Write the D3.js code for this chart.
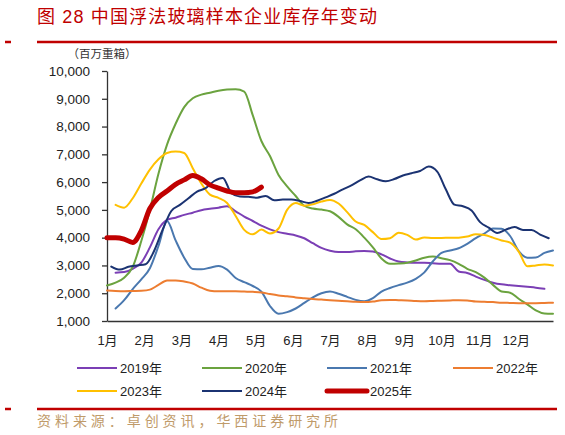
<!DOCTYPE html>
<html>
<head>
<meta charset="utf-8">
<script src="https://cdn.jsdelivr.net/npm/d3@7"></script>
<style>
  body { margin: 0; background: #fff; }
  svg { display: block; }
  text { font-family: "Liberation Sans", Arial, "Noto Sans CJK SC", sans-serif; }
</style>
</head>
<body>
<div id="chart"></div>
<script>
// weekly inventory, 万重箱 -> shown as 百万重箱 on axis ticks
var months = ["1月","2月","3月","4月","5月","6月","7月","8月","9月","10月","11月","12月"];
var yTicks = [1000,2000,3000,4000,5000,6000,7000,8000,9000,10000];
var seriesNames = ["2019年","2020年","2021年","2022年","2023年","2024年","2025年"];
var seriesStart = [1, 0, 1, 0, 1, 0.5, 0];   // first week of each series

var v2019 = [2740,2760,2880,3100,3650,4300,4640,4720,4820,4900,4990,5040,5080,5130,4950,4760,4600,4430,4300,4200,4140,4080,3980,3800,3630,3530,3480,3480,3510,3520,3500,3400,3250,3140,3110,3100,3100,3080,3060,3060,2780,2730,2600,2480,2380,2320,2290,2260,2230,2200,2160];
var v2020 = [2280,2380,2560,2950,3880,5000,6300,7350,8100,8700,9020,9150,9220,9290,9330,9340,9260,8400,7480,6940,6260,5850,5500,5150,5050,5010,4950,4750,4480,4300,4000,3650,3250,3060,3070,3100,3180,3280,3320,3260,3190,3060,2880,2760,2560,2300,2060,2020,1800,1600,1380,1270,1260];
var v2021 = [1450,1750,2150,2500,2900,3700,4600,3900,3280,2870,2860,2920,2980,2850,2550,2400,2260,2060,1540,1260,1320,1450,1650,1850,2000,2060,1980,1870,1760,1710,1820,2060,2190,2290,2380,2520,2750,3150,3450,3540,3620,3780,3980,4150,4330,4320,4060,3520,3280,3290,3450,3540];
var v2022 = [2100,2080,2070,2080,2090,2130,2300,2460,2460,2420,2350,2200,2090,2070,2070,2070,2060,2050,2030,1970,1920,1890,1850,1820,1790,1770,1750,1730,1710,1690,1680,1700,1750,1760,1750,1740,1720,1710,1720,1730,1740,1750,1740,1700,1690,1680,1660,1650,1640,1640,1640,1650,1660];
var v2023 = [5180,5080,5420,5950,6450,6820,7050,7100,7050,6500,5950,5550,5430,5250,4780,4280,4120,4290,4150,4330,5000,5250,5150,5200,5300,5360,5230,4920,4580,4460,4200,3950,3980,4180,4100,3930,4010,3990,3990,4000,4000,4040,4120,4100,4000,3900,3820,3500,2970,3000,3030,3000];
var v2024 = [2960,2850,2950,3000,3040,3530,4300,4960,5180,5420,5660,5780,6040,6150,5600,5480,5470,5440,5500,5350,5370,5370,5320,5250,5330,5450,5580,5740,5880,6060,6200,6100,6030,6110,6240,6320,6400,6560,6380,5740,5190,5130,4980,4560,4360,4170,4290,4380,4280,4280,4110,3980];
var v2025 = [4000,4000,3950,3830,4250,5050,5450,5680,5920,6080,6240,6120,5900,5780,5680,5620,5620,5650,5820];

var seriesValues = [v2019, v2020, v2021, v2022, v2023, v2024, v2025];
var colors = ["#7B3FB5","#6BA33F","#4A78AF","#ED7D31","#FFC000","#1B3372","#C00000"];
var widths = [2, 2, 2, 2, 2, 2, 5];

var W = 565, H = 435;
var plot = {left: 107, right: 553, top: 71, bottom: 321};

var svg = d3.select("#chart").append("svg")
  .attr("width", W)
  .attr("height", H);

// title + rules
svg.append("text")
  .attr("x", 37).attr("y", 23)
  .attr("font-family", "'Noto Sans CJK SC', sans-serif")
  .attr("font-size", 18)
  .attr("fill", "#C00000")
  .attr("textLength", 340).attr("lengthAdjust", "spacing")
  .text("图 28 中国浮法玻璃样本企业库存年变动");

[42, 409].forEach(function(yy) {
  svg.append("line").attr("x1", 37).attr("x2", 557).attr("y1", yy).attr("y2", yy)
    .attr("stroke", "#C00000").attr("stroke-width", 2.5);
  svg.append("line").attr("x1", 5).attr("x2", 11).attr("y1", yy).attr("y2", yy)
    .attr("stroke", "#C00000").attr("stroke-width", 2.5);
});

svg.append("text")
  .attr("x", 102).attr("y", 58)
  .attr("text-anchor", "middle")
  .attr("font-family", "'Noto Sans CJK SC', sans-serif")
  .attr("font-size", 11.5)
  .attr("fill", "#333")
  .text("（百万重箱）");

var x = d3.scaleLinear().domain([0, 52]).range([plot.left, plot.right]);
var y = d3.scaleLinear().domain([1000, 10000]).range([plot.bottom, plot.top]);

// y axis
var yAxis = d3.axisLeft(y).tickValues(yTicks).tickSize(5).tickSizeOuter(0)
  .tickFormat(d3.format(","));
var gy = svg.append("g")
  .attr("transform", "translate(" + plot.left + ",0)")
  .call(yAxis);
gy.select(".domain").attr("stroke", "#333").attr("stroke-width", 1.3);
gy.selectAll(".tick line").attr("stroke", "#333").attr("stroke-width", 1.3);
gy.selectAll(".tick text")
  .attr("x", -17)
  .attr("font-size", 13.5)
  .attr("font-family", "'Liberation Sans', Arial, sans-serif")
  .attr("fill", "#222");

// x axis: month labels at month starts
var xAxis = d3.axisBottom(x)
  .tickValues(months.map(function(m, i) { return i * 52 / 12; }))
  .tickSize(0).tickSizeOuter(0)
  .tickFormat(function(d, i) { return months[i]; });
var gx = svg.append("g")
  .attr("transform", "translate(0," + plot.bottom + ")")
  .call(xAxis);
gx.select(".domain").attr("stroke", "#333").attr("stroke-width", 1.5);
gx.selectAll(".tick text")
  .attr("y", 15)
  .attr("font-size", 13)
  .attr("fill", "#222");

// lines
var line = d3.line()
  .x(function(d) { return x(d.w); })
  .y(function(d) { return y(d.v); })
  .curve(d3.curveMonotoneX);

seriesValues.forEach(function(vals, k) {
  var pts = vals.map(function(v, i) { return {w: seriesStart[k] + i, v: v}; });
  svg.append("path")
    .datum(pts)
    .attr("fill", "none")
    .attr("stroke", colors[k])
    .attr("stroke-width", widths[k])
    .attr("stroke-linejoin", "round")
    .attr("stroke-linecap", "round")
    .attr("d", line);
});

// legend
var legX = [77, 202, 327, 453], legY = [368, 391];
seriesNames.forEach(function(name, k) {
  var lx = legX[k % 4], ly = legY[Math.floor(k / 4)];
  svg.append("line")
    .attr("x1", lx).attr("x2", lx + 40).attr("y1", ly).attr("y2", ly)
    .attr("stroke", colors[k]).attr("stroke-width", k == 6 ? 5 : 2.2)
    .attr("stroke-linecap", k == 6 ? "round" : "butt");
  svg.append("text")
    .attr("x", lx + 43).attr("y", ly + 5)
    .attr("font-size", 13)
    .attr("fill", "#222")
    .text(name);
});

svg.append("text")
  .attr("x", 37).attr("y", 426)
  .attr("font-family", "'Noto Sans CJK SC', sans-serif")
  .attr("font-size", 14)
  .attr("fill", "#BF9B6A")
  .attr("textLength", 301).attr("lengthAdjust", "spacing")
  .text("资料来源：卓创资讯，华西证券研究所");
</script>
</body>
</html>
